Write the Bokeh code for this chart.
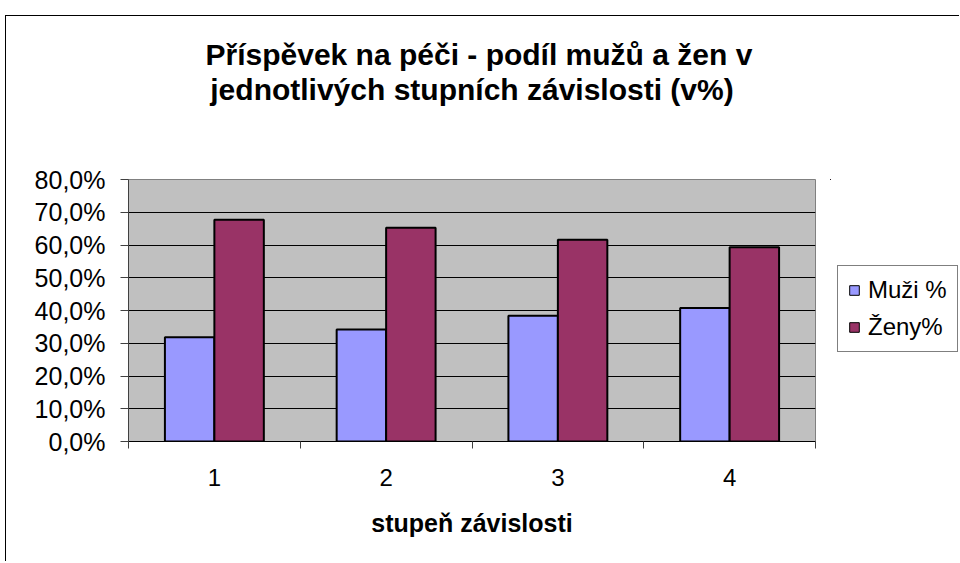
import numpy as np
from bokeh.plotting import figure
from bokeh.layouts import row
from bokeh.models import (ColumnDataSource, FixedTicker, Legend, LegendItem,
                          Title, InlineStyleSheet, Range1d, LinearAxis)
from bokeh.embed import file_html
from bokeh.resources import INLINE

# ---- data ----
title_lines = ["Příspěvek na péči - podíl mužů a žen v",
               "jednotlivých stupních závislosti (v%)"]
categories = ["1", "2", "3", "4"]
series_names = ["Muži %", "Ženy%"]
muzi = [31.8, 34.2, 38.4, 40.8]
zeny = [67.7, 65.3, 61.6, 59.3]
y_ticks = [0, 10, 20, 30, 40, 50, 60, 70, 80]
y_tick_labels = ["0,0%", "10,0%", "20,0%", "30,0%", "40,0%",
                 "50,0%", "60,0%", "70,0%", "80,0%"]
x_label = "stupeň závislosti"

FONT = "Liberation Sans"
C_M = "#9999FF"
C_Z = "#993366"
H = 545

n = len(categories)
centers = np.arange(n) + 0.5
bw = 0.288

src = ColumnDataSource(dict(
    xm=centers - bw / 2, xz=centers + bw / 2, muzi=muzi, zeny=zeny))

p = figure(width=824, height=H, output_backend="svg", toolbar_location=None,
           x_range=Range1d(0, n), y_range=Range1d(0, y_ticks[-1]),
           min_border_left=122, min_border_right=15,
           min_border_top=163, min_border_bottom=120)
xa = p.below[0]
ya = p.left[0]

p.background_fill_color = "#C0C0C0"
p.border_fill_color = "white"
p.outline_line_color = "#808080"
p.outline_line_width = 1

r1 = p.vbar(x="xm", top="muzi", width=bw, source=src, fill_color=C_M,
            line_color="black", line_width=2)
r2 = p.vbar(x="xz", top="zeny", width=bw, source=src, fill_color=C_Z,
            line_color="black", line_width=2)

# second title line as the label of an empty axis above the plot
ta = LinearAxis(ticker=FixedTicker(ticks=[], minor_ticks=[]), axis_line_color=None,
                major_tick_line_color=None, minor_tick_line_color=None,
                major_tick_out=0, major_tick_in=0, minor_tick_out=0, minor_tick_in=0,
                major_label_text_font_size="0px", major_label_standoff=0,
                axis_label=title_lines[1], axis_label_text_font=FONT,
                axis_label_text_font_size="30px", axis_label_text_font_style="bold",
                axis_label_text_color="black", axis_label_standoff=74)
p.add_layout(ta, "above")

t1 = Title(text=title_lines[0], align="left", offset=77, text_font=FONT,
           text_font_size="30px", text_font_style="bold", text_color="black",
           standoff=-2)
p.add_layout(t1, "above")

# x axis
xa.ticker = FixedTicker(ticks=list(centers), minor_ticks=list(range(n + 1)))
xa.major_label_overrides = {float(c): lab for c, lab in zip(centers, categories)}
xa.major_tick_out = 0
xa.major_tick_in = 0
xa.minor_tick_out = 7
xa.minor_tick_in = 0
xa.minor_tick_line_color = "#404040"
xa.axis_line_color = "black"
xa.major_label_text_font = FONT
xa.major_label_text_font_size = "24px"
xa.major_label_text_color = "black"
xa.major_label_standoff = 20
xa.axis_label = x_label
xa.axis_label_text_font = FONT
xa.axis_label_text_font_size = "25px"
xa.axis_label_text_font_style = "bold"
xa.axis_label_text_color = "black"
xa.axis_label_standoff = 20
p.xgrid.visible = False

# y axis
ya.ticker = FixedTicker(ticks=y_ticks, minor_ticks=[])
ya.major_label_overrides = {t_: lab for t_, lab in zip(y_ticks, y_tick_labels)}
ya.major_tick_out = 8
ya.major_tick_in = 0
ya.major_tick_line_color = "#404040"
ya.axis_line_color = "#404040"
ya.major_label_text_font = FONT
ya.major_label_text_font_size = "25px"
ya.major_label_text_color = "black"
ya.major_label_standoff = 15
p.ygrid.grid_line_color = "black"
p.ygrid.grid_line_width = 1

# legend panel to the right of the chart; its proxy bars lie outside its view
q = figure(width=129, height=H, output_backend="svg", toolbar_location=None,
           x_axis_type=None, y_axis_type=None, min_border=0,
           x_range=Range1d(100, 101), y_range=Range1d(-180, -100))
q.outline_line_color = None
q.background_fill_color = "white"
q.border_fill_color = "white"
lr1 = q.vbar(x="xm", top="muzi", width=bw, source=src, fill_color=C_M,
             line_color="black", line_width=1)
lr2 = q.vbar(x="xz", top="zeny", width=bw, source=src, fill_color=C_Z,
             line_color="black", line_width=1)

legend = Legend(items=[LegendItem(label=series_names[0], renderers=[lr1]),
                       LegendItem(label=series_names[1], renderers=[lr2])],
                location=(7, 89))
legend.border_line_color = "black"
legend.border_line_width = 1
legend.background_fill_color = "white"
legend.background_fill_alpha = 1
legend.label_text_font = FONT
legend.label_text_font_size = "24px"
legend.label_text_color = "black"
legend.glyph_width = 12
legend.glyph_height = 12
legend.label_standoff = 8
legend.padding = 10
legend.spacing = 9
legend.margin = 0
q.add_layout(legend, "center")

layout = row(p, q, spacing=0)
layout.margin = (15, 0, 0, 5)
layout.stylesheets = [InlineStyleSheet(css=":host { border-left: 1px solid black; border-top: 1px solid black; }")]

open("out.html", "w").write(file_html(layout, INLINE))
